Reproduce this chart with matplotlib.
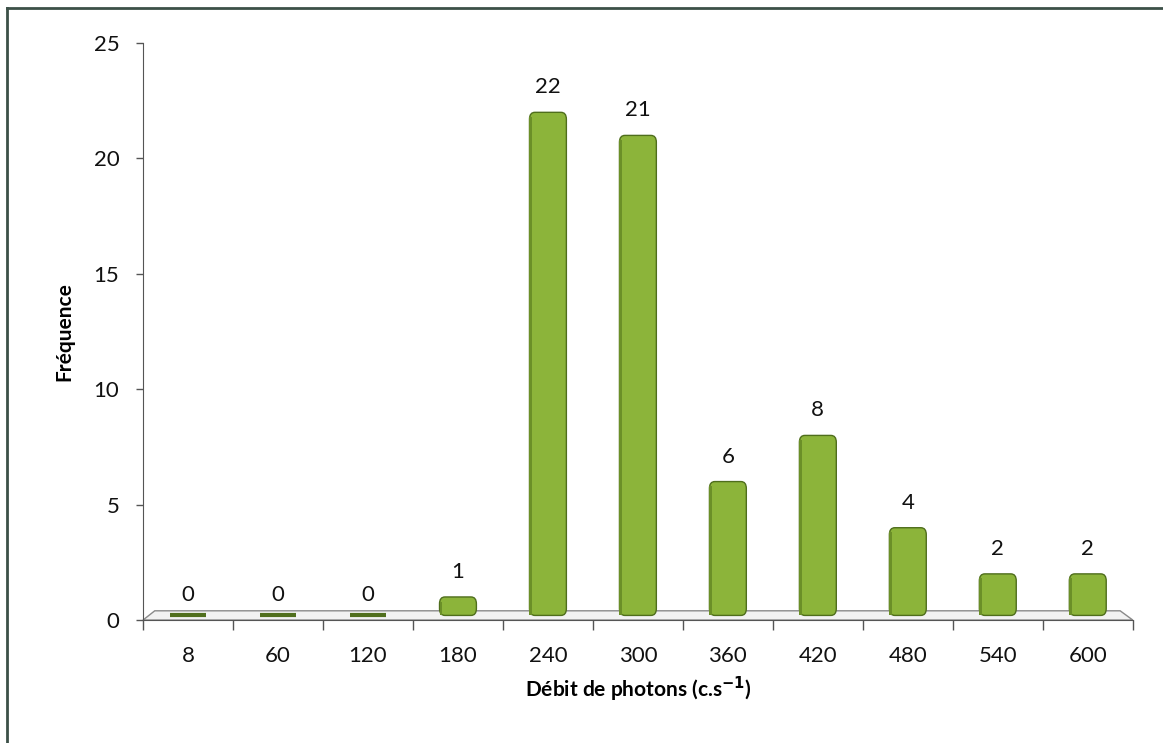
import numpy as np
import matplotlib
matplotlib.use("Agg")
import matplotlib.pyplot as plt
from matplotlib.patches import Polygon, FancyBboxPatch
from matplotlib.lines import Line2D

plt.rcParams['font.family'] = ['Lato', 'DejaVu Sans']

categories = ["8", "60", "120", "180", "240", "300", "360", "420", "480", "540", "600"]
frequence = [0, 0, 0, 1, 22, 21, 6, 8, 4, 2, 2]
yticks = [0, 5, 10, 15, 20, 25]

green = "#8cb43a"
dark = "#4f6e1c"
txt = "#111111"

fig = plt.figure(figsize=(11.63, 7.43), dpi=100)
ax = fig.add_axes([0.123, 0.1655, 0.851, 0.7765])

n = len(categories)
x = np.arange(n)
ax.set_xlim(-0.5, n - 0.5)
ax.set_ylim(0, 25)

# floor plane (3D effect)
d = 0.4
floor = Polygon([(-0.5, 0), (-0.37, d), (n - 0.64, d), (n - 0.5, 0)],
                closed=True, facecolor="#f2f2f2", edgecolor="#8a8a8a", lw=1.0,
                zorder=1, clip_on=False)
ax.add_patch(floor)

w = 0.41
base = 0.2
for xi, v in zip(x, frequence):
    if v == 0:
        ax.plot([xi - w / 2, xi + w / 2], [base, base], color=dark, lw=3,
                solid_capstyle="butt", zorder=3)
    else:
        h = v - base
        bar = FancyBboxPatch((xi - w / 2, base), w, h,
                             boxstyle="round,pad=0,rounding_size=0.06",
                             mutation_aspect=5,
                             facecolor=green, edgecolor=dark, lw=1.0, zorder=3)
        ax.add_patch(bar)
        # darker left side strip for shading
        ax.add_patch(plt.Rectangle((xi - w / 2, base), 0.03, h - 0.2,
                                   facecolor="#6b8f28", edgecolor="none", zorder=4))
    ax.text(xi, v + 0.65, str(v), ha="center", va="bottom", fontsize=16,
            color=txt, zorder=5)

ax.set_yticks(yticks)
ax.set_yticklabels([str(t) for t in yticks], fontsize=16, color=txt)
ax.set_xticks(x)
ax.set_xticklabels(categories, fontsize=16, color=txt)
ax.tick_params(axis="x", length=0, pad=19)
ax.tick_params(axis="y", length=5, width=1, color="#555555", pad=12)
ax.set_xticks(np.arange(-0.5, n, 1.0), minor=True)
ax.tick_params(axis="x", which="minor", length=7, width=1, color="#555555", direction="out")

for s in ["top", "right"]:
    ax.spines[s].set_visible(False)
ax.spines["left"].set_color("#555555")
ax.spines["bottom"].set_color("#555555")

ax.set_ylabel("Fréquence", fontsize=15, fontweight="bold", labelpad=14)
ax.set_xlabel("Débit de photons (c.s$^{\\mathbf{-1}}$)", fontsize=15, fontweight="bold", labelpad=6)

# figure border (left and top)
fig.add_artist(Line2D([0.006, 0.006], [0, 0.989], transform=fig.transFigure,
                      color="#3c5048", lw=2))
fig.add_artist(Line2D([0.006, 1.0], [0.989, 0.989], transform=fig.transFigure,
                      color="#3c5048", lw=2))

fig.savefig("out.png", dpi=100)
